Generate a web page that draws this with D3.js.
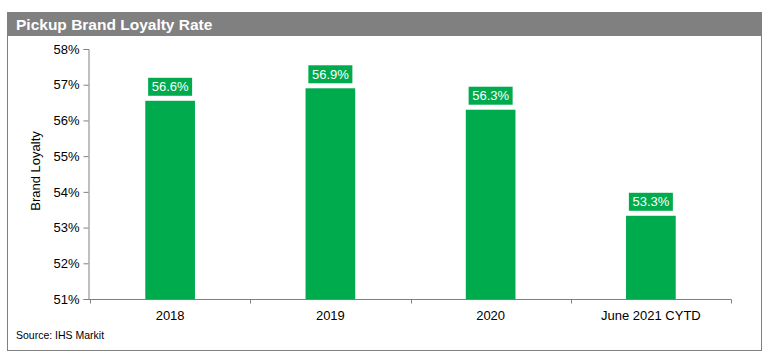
<!DOCTYPE html>
<html>
<head>
<meta charset="utf-8">
<script src="https://cdn.jsdelivr.net/npm/d3@7"></script>
<style>
  body { margin: 0; background: #fff; }
  svg { font-family: Arial, "Liberation Sans", sans-serif; }
</style>
</head>
<body>
<svg id="chart"></svg>
<script>
const W = 769, H = 358;

const categories = ["2018", "2019", "2020", "June 2021 CYTD"];
const loyalty = [56.55, 56.9, 56.3, 53.33];
const valueLabels = ["56.6%", "56.9%", "56.3%", "53.3%"];
const yTicks = [51, 52, 53, 54, 55, 56, 57, 58];

const TITLE = "Pickup Brand Loyalty Rate";
const SOURCE = "Source: IHS Markit";
const GREEN = "#00ab4e";
const GREY = "#808080";

const svg = d3.select("#chart")
    .attr("width", W)
    .attr("height", H);

// outer frame + title bar
svg.append("rect")
    .attr("x", 7.5).attr("y", 12.5)
    .attr("width", 754).attr("height", 338)
    .attr("fill", "#fff")
    .attr("stroke", GREY)
    .attr("stroke-width", 1);

svg.append("rect")
    .attr("x", 7).attr("y", 12)
    .attr("width", 755).attr("height", 24)
    .attr("fill", GREY);

svg.append("text")
    .attr("x", 16).attr("y", 30)
    .attr("fill", "#fff")
    .attr("font-size", 15.5)
    .attr("font-weight", "bold")
    .text(TITLE);

const x = d3.scaleBand()
    .domain(categories)
    .range([90, 731])
    .paddingInner(0.69)
    .paddingOuter(0.345);

const y = d3.scaleLinear()
    .domain([51, 58])
    .range([299, 49]);

// y axis
const yAxis = svg.append("g")
    .attr("transform", "translate(88.5,0)")
    .call(d3.axisLeft(y)
        .tickValues(yTicks)
        .tickSize(5)
        .tickPadding(4)
        .tickFormat(d => d + "%"));
yAxis.select(".domain").attr("stroke", GREY);
yAxis.selectAll(".tick line").attr("stroke", GREY);
yAxis.selectAll(".tick text")
    .attr("font-size", 13)
    .attr("font-family", "Arial, 'Liberation Sans', sans-serif")
    .attr("fill", "#000");

// x axis: ticks at category boundaries
const xAxisG = svg.append("g").attr("transform", "translate(0,299.5)");
xAxisG.append("line")
    .attr("x1", 88).attr("x2", 731.5)
    .attr("stroke", GREY);
const step = x.step();
const bounds = d3.range(categories.length + 1).map(i => 90 + i * step);
xAxisG.selectAll("line.tk")
    .data(bounds)
    .enter().append("line")
    .attr("class", "tk")
    .attr("x1", d => Math.round(d) + 0.5)
    .attr("x2", d => Math.round(d) + 0.5)
    .attr("y1", 0).attr("y2", 4)
    .attr("stroke", GREY);
xAxisG.selectAll("text")
    .data(categories)
    .enter().append("text")
    .attr("x", d => x(d) + x.bandwidth() / 2)
    .attr("y", 20)
    .attr("text-anchor", "middle")
    .attr("font-size", 13)
    .attr("fill", "#000")
    .text(d => d);

// axis title
svg.append("text")
    .attr("transform", "translate(40,171) rotate(-90)")
    .attr("text-anchor", "middle")
    .attr("font-size", 13)
    .attr("fill", "#000")
    .text("Brand Loyalty");

// bars
svg.selectAll("rect.bar")
    .data(loyalty)
    .enter().append("rect")
    .attr("class", "bar")
    .attr("x", (d, i) => x(categories[i]))
    .attr("y", d => y(d))
    .attr("width", x.bandwidth())
    .attr("height", d => y(51) - y(d))
    .attr("fill", GREEN);

// value labels
const lab = svg.selectAll("g.lab")
    .data(loyalty)
    .enter().append("g")
    .attr("class", "lab")
    .attr("transform", (d, i) =>
        `translate(${x(categories[i]) + x.bandwidth() / 2},${y(d) - 5})`);
lab.append("rect")
    .attr("x", -22).attr("y", -18)
    .attr("width", 44).attr("height", 18)
    .attr("fill", GREEN);
lab.append("text")
    .attr("y", -4.5)
    .attr("text-anchor", "middle")
    .attr("font-size", 13)
    .attr("fill", "#fff")
    .text((d, i) => valueLabels[i]);

// source
svg.append("text")
    .attr("x", 16).attr("y", 339)
    .attr("font-size", 10.5)
    .attr("fill", "#000")
    .text(SOURCE);
</script>
</body>
</html>
